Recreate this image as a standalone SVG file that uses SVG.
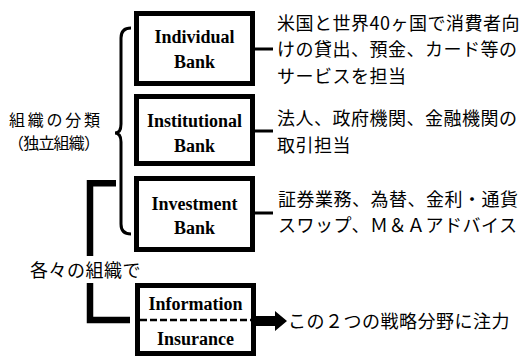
<svg xmlns="http://www.w3.org/2000/svg" width="523" height="357" viewBox="0 0 523 357">
<style>
.box{fill:#fff;stroke:#000;stroke-width:5}
.lbl{font-family:"Liberation Serif","Times New Roman",serif;font-weight:bold;font-size:18px;text-anchor:middle;fill:#000}
.jp{font-family:"Noto Sans CJK JP",sans-serif;font-size:18px;letter-spacing:0.5px;fill:#000}
.jps{font-family:"Noto Sans CJK JP",sans-serif;font-size:16px;fill:#000}
.thin{fill:none;stroke:#000;stroke-width:3}
</style>
<rect width="523" height="357" fill="#fff"/>
<g id="connectors">
  <path class="thin" d="M131 28 Q121 28 121 38 L121 124 Q121 133 115 133 Q121 133 121 142 L121 224 Q121 234 131 234" stroke-width="2.5"/>
  <path d="M116 183.3 L90 183.3 L90 256 M90 283 L90 320 L130 320" fill="none" stroke="#000" stroke-width="6.5" stroke-linejoin="miter"/>
  <line class="thin" x1="255" y1="49" x2="273" y2="49"/>
  <line class="thin" x1="255" y1="131" x2="273" y2="131"/>
  <line class="thin" x1="255" y1="213" x2="273" y2="213"/>
  <polygon points="256,316 275,316 275,311 287,321 275,331 275,326 256,326" fill="#000"/>
</g>
<g id="label-left">
  <text class="jps" x="9" y="125.5" textLength="91" lengthAdjust="spacing">組織の分類</text>
  <text class="jps" x="8" y="148.5" textLength="92" lengthAdjust="spacing">（独立組織）</text>
</g>
<g id="label-each">
  <text class="jp" x="30" y="276.5">各々の組織で</text>
</g>
<g id="individual">
  <rect class="box" x="136.5" y="13.5" width="116" height="70"/>
  <text class="lbl" x="194.5" y="43">Individual</text>
  <text class="lbl" x="194.5" y="68">Bank</text>
</g>
<g id="institutional">
  <rect class="box" x="136.5" y="96.5" width="116" height="67"/>
  <text class="lbl" x="194.5" y="126.5">Institutional</text>
  <text class="lbl" x="194.5" y="151.5">Bank</text>
</g>
<g id="investment">
  <rect class="box" x="136.5" y="178.5" width="116" height="71"/>
  <text class="lbl" x="194.5" y="209.5">Investment</text>
  <text class="lbl" x="194.5" y="234">Bank</text>
</g>
<g id="info-insurance">
  <rect class="box" x="137.5" y="285.5" width="116" height="68"/>
  <line x1="140" y1="320" x2="251" y2="320" stroke="#000" stroke-width="2.5" stroke-dasharray="7 3"/>
  <text class="lbl" x="195.5" y="310">Information</text>
  <text class="lbl" x="195.5" y="345">Insurance</text>
</g>
<g id="desc-individual">
  <text class="jp" x="277" y="29.5">米国と世界40ヶ国で消費者向</text>
  <text class="jp" x="277" y="55.5">けの貸出、預金、カード等の</text>
  <text class="jp" x="277" y="82.5">サービスを担当</text>
</g>
<g id="desc-institutional">
  <text class="jp" x="277" y="124.5">法人、政府機関、金融機関の</text>
  <text class="jp" x="277" y="151.5">取引担当</text>
</g>
<g id="desc-investment">
  <text class="jp" x="278" y="205.5">証券業務、為替、金利・通貨</text>
  <text class="jp" x="278" y="231.5">スワップ、Ｍ＆Ａアドバイス</text>
</g>
<g id="desc-focus">
  <text class="jp" x="288" y="327.5">この２つの戦略分野に注力</text>
</g>
</svg>
